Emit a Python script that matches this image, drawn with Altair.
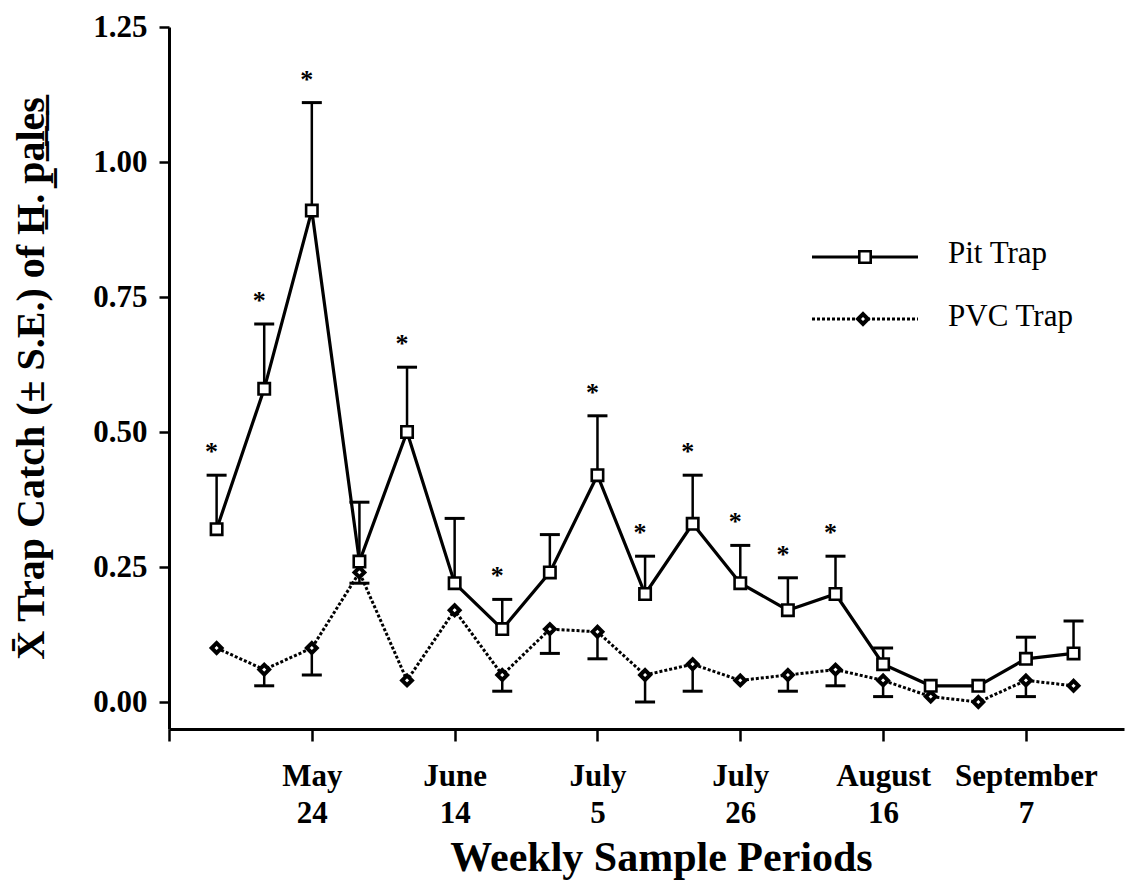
import altair as alt
import pandas as pd

# ---- data ----
weeks = list(range(19))
pit_mean = [0.32, 0.58, 0.91, 0.26, 0.50, 0.22, 0.135, 0.24, 0.42, 0.20,
            0.33, 0.22, 0.17, 0.20, 0.07, 0.03, 0.03, 0.08, 0.09]
pit_upper = [0.42, 0.70, 1.11, 0.37, 0.62, 0.34, 0.19, 0.31, 0.53, 0.27,
             0.42, 0.29, 0.23, 0.27, 0.10, None, None, 0.12, 0.15]
pvc_mean = [0.10, 0.06, 0.10, 0.24, 0.04, 0.17, 0.05, 0.135, 0.13, 0.05,
            0.07, 0.04, 0.05, 0.06, 0.04, 0.01, 0.00, 0.04, 0.03]
pvc_lower = [None, 0.03, 0.05, 0.22, None, None, 0.02, 0.09, 0.08, 0.00,
             0.02, None, 0.02, 0.03, 0.01, None, None, 0.01, None]
significant = [1, 1, 1, 0, 1, 0, 1, 0, 1, 1, 1, 1, 1, 1, 0, 0, 0, 0, 0]

tick_values = [-1, 2, 5, 8, 11, 14, 17]
tick_months = ["", "May", "June", "July", "July", "August", "September"]
tick_days = ["", "24", "14", "5", "26", "16", "7"]
y_ticks = [0.0, 0.25, 0.5, 0.75, 1.0, 1.25]
series_names = ["Pit Trap", "PVC Trap"]

df = pd.DataFrame({
    "week": weeks,
    "pit_mean": pit_mean,
    "pit_upper": pit_upper,
    "pvc_mean": pvc_mean,
    "pvc_lower": pvc_lower,
    "sig": significant,
})

FONT = "Liberation Serif"

label_expr = " : ".join(
    f"datum.value == {v} ? ['{m}', '{d}']" if m else f"datum.value == {v} ? ''"
    for v, m, d in zip(tick_values, tick_months, tick_days)
) + " : ''"

x_scale = alt.Scale(domain=[-1, 19.06], nice=False, zero=False)
y_scale = alt.Scale(domain=[-0.05, 1.25], nice=False, zero=False)

x_axis = alt.Axis(
    values=tick_values, labelExpr=label_expr, title="Weekly Sample Periods",
    tickSize=12, labelPadding=20, labelLineHeight=37, labelOverlap=False,
    labelFlush=False, titleFontSize=42, titleX=492, titleY=108,
    titleBaseline="top", titleAlign="center",
)
y_axis = alt.Axis(
    values=y_ticks, format=".2f",
    title="X̄ Trap Catch (± S.E.) of H̲. p̲a̲l̲e̲s̲",
    tickSize=10, labelPadding=12, labelFlush=False,
    titleFontSize=40, titleX=-126, titleBaseline="alphabetic",
    titleAngle=-90, titleAlign="center",
)

base = alt.Chart(df)
X = alt.X("week:Q", scale=x_scale, axis=x_axis)

def Y(field):
    return alt.Y(field, scale=y_scale, axis=y_axis)

pit_line = base.mark_line(color="black", strokeWidth=3.2).encode(
    x=X, y=Y("pit_mean:Q"))
pvc_line = base.mark_line(color="black", strokeWidth=3, strokeDash=[3, 2]).encode(
    x=X, y=Y("pvc_mean:Q"))

pit_err = base.transform_filter("isValid(datum.pit_upper)").mark_rule(
    color="black", strokeWidth=2.5, opacity=1).encode(
    x=X, y=Y("pit_mean:Q"), y2=alt.Y2("pit_upper:Q"))
pit_cap = base.transform_filter("isValid(datum.pit_upper)").mark_tick(
    color="black", orient="horizontal", size=20, thickness=3, opacity=1).encode(
    x=X, y=Y("pit_upper:Q"))

pvc_err = base.transform_filter("isValid(datum.pvc_lower)").mark_rule(
    color="black", strokeWidth=2.5, opacity=1).encode(
    x=X, y=Y("pvc_lower:Q"), y2=alt.Y2("pvc_mean:Q"))
pvc_cap = base.transform_filter("isValid(datum.pvc_lower)").mark_tick(
    color="black", orient="horizontal", size=20, thickness=3, opacity=1).encode(
    x=X, y=Y("pvc_lower:Q"))

pvc_pts = base.mark_point(shape="diamond", size=95, filled=True, fill="white",
                          stroke="black", strokeWidth=4, opacity=1).encode(
    x=X, y=Y("pvc_mean:Q"))
pit_pts = base.mark_point(shape="square", size=130, filled=True, fill="white",
                          stroke="black", strokeWidth=2.6, opacity=1).encode(
    x=X, y=Y("pit_mean:Q"))

stars = base.transform_filter("datum.sig == 1").mark_text(
    text="*", font=FONT, fontWeight="bold", fontSize=26, color="black",
    baseline="alphabetic", dx=-5, dy=-15).encode(
    x=X, y=Y("pit_upper:Q"))

# ---- legend (decoration) ----
leg_pit = pd.DataFrame({"label": [series_names[0]]})
leg_pvc = pd.DataFrame({"label": [series_names[1]]})

lg_pit_line = alt.Chart(leg_pit).mark_rule(color="black", strokeWidth=3).encode(
    x=alt.value(643), x2=alt.value(749), y=alt.value(230))
lg_pit_pt = alt.Chart(leg_pit).mark_point(
    shape="square", size=130, filled=True, fill="white", stroke="black",
    strokeWidth=2.6, opacity=1).encode(x=alt.value(696), y=alt.value(230))
lg_pit_txt = alt.Chart(leg_pit).mark_text(
    font=FONT, fontSize=31, align="left", baseline="middle", color="black").encode(
    text="label:N", x=alt.value(779), y=alt.value(227))

lg_pvc_line = alt.Chart(leg_pvc).mark_rule(
    color="black", strokeWidth=3, strokeDash=[3, 2]).encode(
    x=alt.value(643), x2=alt.value(749), y=alt.value(292))
lg_pvc_pt = alt.Chart(leg_pvc).mark_point(
    shape="diamond", size=95, filled=True, fill="white", stroke="black",
    strokeWidth=4, opacity=1).encode(x=alt.value(694), y=alt.value(292))
lg_pvc_txt = alt.Chart(leg_pvc).mark_text(
    font=FONT, fontSize=31, align="left", baseline="middle", color="black").encode(
    text="label:N", x=alt.value(779), y=alt.value(290))

chart = alt.layer(
    pit_line, pvc_line, pit_err, pit_cap, pvc_err, pvc_cap,
    pvc_pts, pit_pts, stars,
    lg_pit_line, lg_pit_pt, lg_pit_txt, lg_pvc_line, lg_pvc_pt, lg_pvc_txt,
).properties(
    width=955, height=702,
    padding={"left": 161, "top": 19, "right": 5, "bottom": 153},
    autosize=alt.AutoSizeParams(type="none"),
    background="white",
).configure_view(
    stroke=None
).configure_axis(
    grid=False,
    domainColor="black", domainWidth=3,
    tickColor="black", tickWidth=2.5,
    labelFont=FONT, labelFontWeight="bold", labelFontSize=31, labelColor="black",
    titleFont=FONT, titleFontWeight="bold", titleColor="black",
)

chart.save("out.html", embed_options={"renderer": "svg", "actions": False})
